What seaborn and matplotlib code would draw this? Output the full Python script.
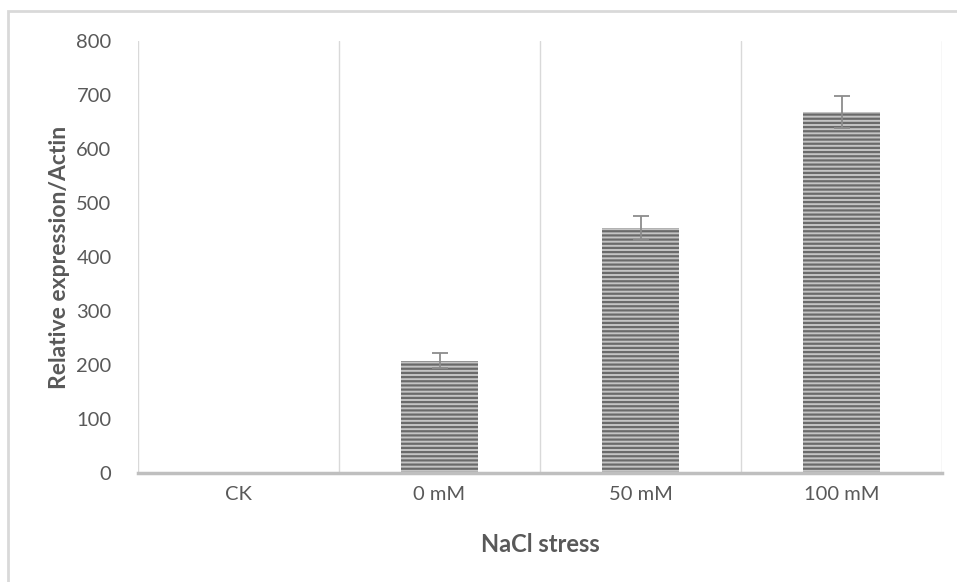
import matplotlib
matplotlib.use('Agg')
import matplotlib.pyplot as plt
import seaborn as sns
import pandas as pd
from matplotlib.patches import Rectangle

# 数据
categories = ['CK', '0 mM', '50 mM', '100 mM']
values = [0, 208, 454, 669]
errors = [0, 14, 22, 30]

sns.set_theme(style='white')
plt.rcParams['font.family'] = ['Lato', 'DejaVu Sans']
plt.rcParams['hatch.linewidth'] = 1.6

df = pd.DataFrame({'group': categories, 'value': values})

W, H = 957, 582
fig = plt.figure(figsize=(W / 100, H / 100), dpi=100)
fig.patch.set_facecolor('white')

# 外框（图表区）
fig.add_artist(Rectangle((8 / W, -0.1), 1.2, 1 - 11 / H + 0.1, transform=fig.transFigure,
                         fill=False, edgecolor='#d9d9d9', linewidth=2))

ax = fig.add_axes([138 / W, (H - 473) / H, 804 / W, 432 / H])
sns.barplot(data=df, x='group', y='value', ax=ax, width=0.38,
            color='#c4c4c4', edgecolor='#6a6a6a', linewidth=0, saturation=1)
for p in ax.patches:
    p.set_hatch('----')
    p.set_linewidth(0)

# 误差线
ax.errorbar(range(1, len(categories)), values[1:], yerr=errors[1:], fmt='none',
            ecolor='#8c8c8c', elinewidth=1.3, capsize=6, capthick=1.3)

ax.set_xlim(-0.5, 3.5)
ax.set_ylim(0, 800)
ax.set_yticks(range(0, 801, 100))
for xv in [-0.5, 0.5, 1.5, 2.5, 3.5]:
    ax.axvline(xv, color='#d9d9d9', linewidth=1, zorder=0)

for s in ['top', 'right', 'left']:
    ax.spines[s].set_visible(False)
ax.spines['bottom'].set_color('#bfbfbf')
ax.spines['bottom'].set_linewidth(2.5)

ax.tick_params(axis='both', length=0, labelsize=14.5, colors='#595959')
ax.tick_params(axis='y', pad=19)
ax.tick_params(axis='x', pad=9)
ax.set_xlabel('NaCl stress', fontsize=17, fontweight='bold', color='#595959')
ax.set_ylabel('Relative expression/Actin', fontsize=16.5, fontweight='bold', color='#595959')
ax.xaxis.set_label_coords(0.5, -0.14)
ax.yaxis.set_label_coords(-0.085, 0.5)

fig.savefig('out.png', dpi=100)
